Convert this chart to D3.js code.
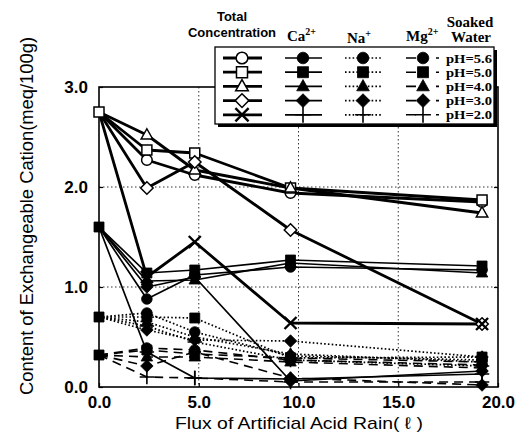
<!DOCTYPE html>
<html>
<head>
<meta charset="utf-8">
<script src="https://cdn.jsdelivr.net/npm/d3@7/dist/d3.min.js"></script>
<style>
  html, body { margin: 0; padding: 0; background: #fff; }
  svg { display: block; }
  .sans { font-family: "Liberation Sans", Arial, Helvetica, sans-serif; }
  .serif { font-family: "Liberation Serif", "Times New Roman", serif; }
</style>
</head>
<body>
<svg id="chart" width="520" height="437"></svg>
<script>
// Flux of artificial acid rain (litres) at each sampling step
const flux = [0, 2.4, 4.8, 9.6, 19.2];

// pH of the applied rain, one series per pH in every group
const phLevels = ["5.6", "5.0", "4.0", "3.0", "2.0"];
const markerShapes = ["circle", "square", "triangle", "diamond", "cross"];

// Exchangeable cation content (meq/100g), rows follow phLevels
const totalConc = [
  [2.75, 2.27, 2.12, 1.94, 1.85],
  [2.75, 2.37, 2.34, 1.99, 1.87],
  [2.75, 2.52, 2.17, 1.99, 1.74],
  [2.75, 1.99, 2.25, 1.57, 0.63],
  [2.75, 1.10, 1.45, 0.64, 0.63]
];
const caConc = [
  [1.60, 0.88, 1.12, 1.20, 1.17],
  [1.60, 1.14, 1.17, 1.27, 1.21],
  [1.60, 1.06, 1.07, 1.24, 1.14],
  [1.60, 1.00, 1.10, 0.06, 0.16],
  [1.60, 0.35, 0.09, 0.08, 0.13]
];
const naConc = [
  [0.70, 0.74, 0.55, 0.31, 0.27],
  [0.70, 0.70, 0.69, 0.29, 0.30],
  [0.70, 0.65, 0.50, 0.33, 0.25],
  [0.70, 0.57, 0.47, 0.46, 0.30],
  [0.70, 0.61, 0.45, 0.27, 0.21]
];
const mgConc = [
  [0.32, 0.39, 0.37, 0.27, 0.22],
  [0.32, 0.37, 0.33, 0.29, 0.25],
  [0.32, 0.30, 0.30, 0.25, 0.19],
  [0.32, 0.21, 0.35, 0.09, 0.02],
  [0.32, 0.10, 0.09, 0.05, 0.05]
];

const xTicks = [0, 5, 10, 15, 20];
const yTicks = [0, 1, 2, 3];
const xGrid = [5, 10, 15];
const yGrid = [1, 2];

// Groups: drawing style for each cation
const groups = [
  { key: "mg",    data: mgConc,    open: false, width: 1.6, dash: "9,6" },
  { key: "na",    data: naConc,    open: false, width: 1.7, dash: "1.6,2.2" },
  { key: "ca",    data: caConc,    open: false, width: 1.7, dash: null },
  { key: "total", data: totalConc, open: true,  width: 2.8, dash: null }
];

const svg = d3.select("#chart");
const x = d3.scaleLinear().domain([0, 20]).range([99, 498]);
const y = d3.scaleLinear().domain([0, 3]).range([387, 87]);

// Marker shapes, size given as a half-width in px
const shapes = {
  circle:   { draw(c, r) { c.moveTo(r, 0); c.arc(0, 0, r, 0, 2 * Math.PI); } },
  square:   { draw(c, r) { c.rect(-r, -r, 2 * r, 2 * r); } },
  triangle: { draw(c, r) { c.moveTo(0, -r * 1.25); c.lineTo(r * 1.15, r * 0.8); c.lineTo(-r * 1.15, r * 0.8); c.closePath(); } },
  diamond:  { draw(c, r) { const d = r * 1.25; c.moveTo(0, -d); c.lineTo(d, 0); c.lineTo(0, d); c.lineTo(-d, 0); c.closePath(); } },
  cross:    { draw(c, r) { c.moveTo(-r, -r); c.lineTo(r, r); c.moveTo(r, -r); c.lineTo(-r, r); } },
  plus:     { draw(c, r) { const d = r * 1.2; c.moveTo(-d, 0); c.lineTo(d, 0); c.moveTo(0, -d); c.lineTo(0, d); } }
};
const sizeOf = { circle: 5.3, square: 5, triangle: 5, diamond: 5, cross: 6, plus: 6 };

function shapeName(group, i) {
  const s = markerShapes[i];
  if (s === "cross" && !group.open) return "plus";
  return s;
}

function drawMarker(sel, group, i, cx, cy, scale) {
  const name = shapeName(group, i);
  const r = sizeOf[name] * (scale || 1);
  const p = sel.append("path")
    .attr("d", d3.symbol().type(shapes[name]).size(r)())
    .attr("transform", `translate(${cx},${cy})`);
  if (name === "cross" || name === "plus") {
    p.attr("fill", "none").attr("stroke", "#000")
     .attr("stroke-width", group.open ? 2.4 : 1.6);
  } else if (group.open) {
    p.attr("fill", "#fff").attr("stroke", "#000").attr("stroke-width", 1.5);
  } else {
    p.attr("fill", "#000").attr("stroke", "#000").attr("stroke-width", 0.8);
  }
}

// Grid
const grid = svg.append("g").attr("stroke", "#333").attr("stroke-width", 1)
  .attr("stroke-dasharray", "1.5,2.5");
grid.selectAll(".gx").data(xGrid).join("line")
  .attr("x1", d => x(d)).attr("x2", d => x(d))
  .attr("y1", y(3)).attr("y2", y(0));
grid.selectAll(".gy").data(yGrid).join("line")
  .attr("x1", x(0)).attr("x2", x(20))
  .attr("y1", d => y(d)).attr("y2", d => y(d));

// Axes with inward ticks
const fmt = d3.format(".1f");
const xAxis = svg.append("g").attr("transform", `translate(0,${y(0)})`)
  .call(d3.axisBottom(x).tickValues(xTicks).tickFormat(fmt)
    .tickSizeInner(-4).tickSizeOuter(0).tickPadding(9));
const yAxis = svg.append("g").attr("transform", `translate(${x(0)},0)`)
  .call(d3.axisLeft(y).tickValues(yTicks).tickFormat(fmt)
    .tickSizeInner(-4).tickSizeOuter(0).tickPadding(11));
const yAxisR = svg.append("g").attr("transform", `translate(${x(20)},0)`)
  .call(d3.axisRight(y).tickValues(yGrid).tickFormat("")
    .tickSizeInner(-4).tickSizeOuter(0));
[xAxis, yAxis, yAxisR].forEach(a => {
  a.select(".domain").remove();
  a.selectAll("line").attr("stroke", "#000").attr("stroke-width", 1.2);
  a.selectAll("text").attr("class", "sans").attr("font-size", 17)
    .attr("font-weight", "bold").attr("fill", "#000");
});

// Frame
svg.append("rect").attr("x", x(0)).attr("y", y(3))
  .attr("width", x(20) - x(0)).attr("height", y(0) - y(3))
  .attr("fill", "none").attr("stroke", "#000").attr("stroke-width", 1.6);

// Series lines
const line = d3.line().x((d, i) => x(flux[i])).y(d => y(d));
groups.forEach(g => {
  svg.append("g").selectAll("path").data(g.data).join("path")
    .attr("d", line)
    .attr("fill", "none").attr("stroke", "#000")
    .attr("stroke-width", g.width)
    .attr("stroke-dasharray", g.dash)
    .attr("stroke-linejoin", "round");
});

// Markers; the shared starting sample is marked once (square)
groups.forEach(g => {
  const mg = svg.append("g");
  g.data.forEach((series, si) => {
    series.forEach((v, i) => {
      if (i === 0 && si !== 1) return;
      drawMarker(mg, g, si, x(flux[i]), y(v));
    });
  });
});

// Axis titles
svg.append("text").attr("class", "sans")
  .attr("x", 299).attr("y", 429).attr("text-anchor", "middle")
  .attr("font-size", 17).attr("textLength", 248).attr("lengthAdjust", "spacingAndGlyphs")
  .text("Flux of Artificial Acid Rain( ℓ )");
svg.append("text").attr("class", "sans")
  .attr("transform", "translate(33,216) rotate(-90)").attr("text-anchor", "middle")
  .attr("font-size", 18).attr("textLength", 358).attr("lengthAdjust", "spacingAndGlyphs")
  .text("Content of Exchangeable Cation(meq/100g)");

// Legend
const lg = svg.append("g");
lg.append("rect").attr("x", 218).attr("y", 50).attr("width", 279).attr("height", 77).attr("fill", "#000");
lg.append("rect").attr("x", 215).attr("y", 47).attr("width", 279).attr("height", 77)
  .attr("fill", "#fff").attr("stroke", "#000").attr("stroke-width", 1.3);

const legendCols = {
  total: { x1: 223, x2: 262, cx: 242 },
  ca:    { x1: 285, x2: 322, cx: 303 },
  na:    { x1: 345, x2: 381, cx: 363 },
  mg:    { x1: 406, x2: 440, cx: 423 }
};
const legendDash = { total: null, ca: null, na: "1.6,2.2", mg: "10,20,3" };
phLevels.forEach((ph, i) => {
  const cy = 58 + i * 14.2;
  groups.forEach(g => {
    const col = legendCols[g.key];
    lg.append("line").attr("x1", col.x1).attr("x2", col.x2).attr("y1", cy).attr("y2", cy)
      .attr("stroke", "#000").attr("stroke-width", g.width)
      .attr("stroke-dasharray", legendDash[g.key]);
    drawMarker(lg, g, i, col.cx, cy, 1.1);
  });
  lg.append("text").attr("class", "serif").attr("x", 446).attr("y", cy + 4.5)
    .attr("font-size", 12.5).attr("font-weight", "bold")
    .attr("textLength", 46).attr("lengthAdjust", "spacingAndGlyphs")
    .text("pH=" + ph);
});

// Column headings
const hd = svg.append("g").attr("fill", "#000");
hd.append("text").attr("class", "sans").attr("x", 232).attr("y", 21).attr("text-anchor", "middle")
  .attr("font-size", 13).attr("font-weight", "bold").text("Total");
hd.append("text").attr("class", "sans").attr("x", 232).attr("y", 37).attr("text-anchor", "middle")
  .attr("font-size", 13).attr("font-weight", "bold").text("Concentration");
const ion = (xx, yy, base, sup) => {
  const t = hd.append("text").attr("class", "serif").attr("x", xx).attr("y", yy)
    .attr("font-size", 15).attr("font-weight", "bold");
  t.append("tspan").text(base);
  t.append("tspan").attr("font-size", 10).attr("dy", -6).text(sup);
};
ion(287, 41, "Ca", "2+");
ion(347, 43, "Na", "+");
ion(406, 41, "Mg", "2+");
hd.append("text").attr("class", "serif").attr("x", 470).attr("y", 27).attr("text-anchor", "middle")
  .attr("font-size", 15).attr("font-weight", "bold").text("Soaked");
hd.append("text").attr("class", "serif").attr("x", 471).attr("y", 42).attr("text-anchor", "middle")
  .attr("font-size", 15).attr("font-weight", "bold").text("Water");
</script>
</body>
</html>
